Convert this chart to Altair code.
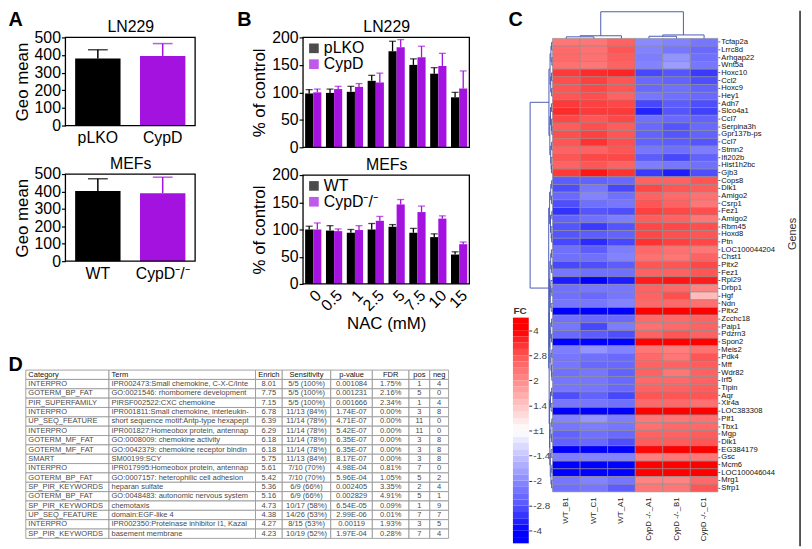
import json
import pandas as pd
import altair as alt

PURPLE = "#a412e0"
FONT = "Liberation Sans"
DENDRO = "#4b5bb5"
W, H = 804, 541

# ---------------- Panel A ----------------
a_ln_groups = ["pLKO", "CypD"]
a_ln_mean = [380, 395]
a_ln_err = [50, 70]
a_mef_groups = ["WT", "CypD⁻/⁻"]
a_mef_mean = [403, 390]
a_mef_err = [70, 92]

# ---------------- Panel B ----------------
nac = ["0", "0.5", "1", "2.5", "5", "7.5", "10", "15"]
b_ln_series = ["pLKO", "CypD"]
b_ln_plko = [98, 99, 101, 121, 175, 150, 134, 91]
b_ln_plko_err = [7, 7, 10, 10, 18, 11, 11, 9]
b_ln_cypd = [100, 106, 110, 118, 182, 164, 148, 107]
b_ln_cypd_err = [6, 5, 6, 17, 14, 20, 23, 32]
b_mef_series = ["WT", "CypD⁻/⁻"]
b_mef_wt = [100, 98, 94, 100, 105, 94, 86, 54]
b_mef_wt_err = [6, 9, 6, 11, 4, 8, 6, 5]
b_mef_ko = [100, 97, 99, 116, 146, 132, 120, 73]
b_mef_ko_err = [12, 4, 8, 8, 9, 11, 5, 4]

# ---------------- Panel C ----------------
samples = ["WT_B1", "WT_C1", "WT_A1", "CypD -/-_A1", "CypD -/-_B1", "CypD -/-_C1"]
genes = ["Tcfap2a", "Lrrc8d", "Arhgap22", "Wnt5a", "Hoxc10", "Ccl2", "Hoxc9", "Hey1", "Adh7",
         "Slco4a1", "Ccl7", "Serpina3h", "Gpr137b-ps", "Ccl7", "Stmn2", "Ifi202b", "Hist1h2bc", "Gjb3",
         "Cops8", "Dlk1", "Amigo2", "Csrp1", "Fez1", "Amigo2", "Rbm45", "Hoxd8", "Ptn", "LOC100044204",
         "Chst1", "Pitx2", "Fez1", "Rpl29", "Drbp1", "Hgf", "Ndn", "Pitx2", "Zcchc18", "Paip1", "Pdzrn3",
         "Spon2", "Meis2", "Pdk4", "Mff", "Wdr82", "Irf5", "Tipin", "Aqr", "Xlr4a", "LOC383308", "Plf1",
         "Tbx1", "Mgp", "Dlk1", "EG384179", "Gsc", "Mcm6", "LOC100046044", "Mrg1", "Sfrp1"]
wt_b1 = [2.3, 2.5, 2.5, 2.4, 3.2, 2.9, 2.8, 2.8, 3.2, 3.4, 3.0, 2.7, 2.9, 2.8, 2.6, 2.8, 2.6, 3.2,
         -2.7, -2.9, -2.5, -2.9, -3.3, -2.6, -2.8, -2.8, -3.0, -2.4, -2.4, -3.0, -2.3, -3.6, -2.4, -2.4,
         -2.3, -4.4, -2.4, -2.3, -2.5, -4.4, -2.2, -2.3, -2.3, -2.4, -2.3, -2.3, -2.9, -2.3, -4.4, -2.1,
         -2.3, -2.6, -2.6, -4.2, -2.2, -4.5, -4.5, -2.3, -2.4]
wt_c1 = [2.3, 2.4, 2.4, 2.3, 3.4, 3.1, 3.0, 2.9, 3.1, 3.2, 2.8, 2.9, 3.1, 3.3, 2.6, 3.0, 2.8, 3.7,
         -2.6, -2.3, -2.1, -2.4, -2.8, -2.4, -3.2, -2.7, -3.4, -2.7, -2.4, -2.9, -2.4, -4.3, -2.3, -2.5,
         -2.3, -4.5, -2.5, -3.0, -2.7, -4.4, -1.9, -2.4, -2.5, -2.3, -2.3, -2.3, -2.6, -2.3, -4.4, -1.9,
         -2.2, -2.4, -2.5, -4.1, -2.1, -4.5, -4.5, -2.1, -2.3]
wt_a1 = [2.6, 2.8, 2.7, 2.6, 3.5, 2.8, 2.8, 2.6, 3.0, 3.2, 3.0, 2.7, 2.8, 2.9, 2.8, 3.0, 2.6, 3.3,
         -2.5, -3.0, -2.4, -2.3, -2.9, -2.2, -2.8, -2.6, -3.0, -2.2, -2.1, -2.7, -2.4, -3.6, -2.3, -2.3,
         -2.1, -4.3, -2.5, -2.2, -2.9, -4.3, -2.1, -2.5, -2.5, -2.6, -2.5, -2.5, -3.0, -2.4, -4.4, -2.2,
         -2.3, -2.5, -2.9, -4.3, -2.1, -4.5, -4.5, -2.3, -2.7]
ko_a1 = [-2.0, -2.1, -2.2, -2.1, -3.0, -2.5, -2.5, -2.3, -3.0, -3.5, -2.4, -2.5, -2.6, -2.6, -2.3, -2.7, -2.2, -3.2,
         2.6, 3.0, 2.6, 2.8, 3.1, 2.7, 3.0, 3.0, 3.3, 2.5, 2.4, 2.8, 2.6, 3.6, 2.6, 2.6, 2.5, 4.3, 2.5, 2.4,
         2.6, 4.2, 2.3, 2.5, 2.6, 2.6, 2.5, 2.6, 2.8, 2.5, 4.3, 2.3, 2.4, 2.6, 2.7, 3.9, 2.2, 4.4, 4.3, 2.1, 2.3]
ko_b1 = [-2.1, -2.3, -1.9, -1.8, -2.8, -2.6, -2.4, -2.4, -2.7, -2.8, -2.5, -2.8, -2.8, -2.7, -2.4, -3.0, -2.3, -3.6,
         2.6, 2.8, 2.5, 2.6, 3.0, 2.6, 3.0, 2.9, 3.1, 2.4, 2.3, 2.8, 2.6, 3.7, 2.5, 2.9, 2.5, 4.4, 2.5, 2.5,
         2.8, 4.3, 2.2, 2.3, 2.6, 2.3, 2.5, 2.6, 2.8, 2.5, 4.3, 2.3, 2.5, 2.6, 2.7, 4.0, 2.3, 4.5, 4.5, 2.1, 2.3]
ko_c1 = [-2.3, -2.5, -2.4, -2.3, -3.2, -2.9, -2.6, -2.5, -2.9, -3.1, -2.6, -2.5, -2.6, -2.8, -2.2, -2.6, -2.4, -2.9,
         2.8, 2.7, 2.4, 2.3, 2.9, 2.3, 2.9, 2.8, 3.0, 2.3, 2.6, 3.0, 2.8, 3.6, 2.1, 1.5, 2.4, 4.3, 2.6, 2.6,
         2.6, 4.3, 2.4, 2.8, 2.7, 2.6, 2.6, 2.7, 2.8, 2.4, 4.3, 2.4, 2.5, 2.7, 2.8, 4.3, 2.3, 4.5, 4.5, 2.5, 2.8]

fc_domain = [-4, -2.8, -2, -1.4, -1, 1, 1.4, 2, 2.8, 4]
fc_colors = ["#0000ff", "#5555ff", "#8a8aff", "#c4c4ff", "#ffffff", "#ffffff", "#ffc4c4", "#ff8a8a", "#ff5555", "#ff0000"]
cbar_labels = ["-4", "-2.8", "-2", "-1.4", "±1", "1.4", "2", "2.8", "4"]
cbar_colors = ["#0000ff", "#5555ff", "#8a8aff", "#c4c4ff", "#ffffff", "#ffc4c4", "#ff8a8a", "#ff5555", "#ff0000"]

# dendrograms: (left, right, merge height); leaves are column / row indices
top_tree = (((0, 1, 0.6), 2, 1.0), ((3, 4, 0.8), 5, 1.3), 10.0)
_A = ((0, 1, 0.4), (2, 3, 0.3), 0.7)
_B = ((4, 5, 0.5), (6, 7, 0.4), 0.8)
_C = ((8, 9, 0.5), (10, (11, 12, 0.3), 0.5), 0.9)
_D = ((13, 14, 0.4), (15, (16, 17, 0.5), 0.6), 0.8)
_E = ((18, 19, 0.4), (20, 21, 0.5), 0.8)
_F = ((22, 23, 0.3), (24, (25, 26, 0.4), 0.6), 0.9)
_G = ((27, 28, 0.5), (29, 30, 0.4), 0.8)
_H = ((31, (32, 33, 0.3), 0.7), (34, 35, 0.6), 1.0)
_I = ((36, 37, 0.4), (38, 39, 0.5), 0.8)
_J = ((40, 41, 0.3), (42, (43, 44, 0.3), 0.5), 0.7)
_K = ((45, 46, 0.4), (47, 48, 0.6), 0.9)
_L = ((49, 50, 0.3), (51, 52, 0.4), 0.7)
_M = ((53, 54, 0.6), ((55, 56, 0.3), (57, 58, 0.4), 0.7), 1.0)
left_tree = (((_A, _B, 1.1), (_C, _D, 1.2), 1.6),
             ((_E, _F, 1.3), (((_G, _H, 1.2), (_I, _J, 1.1), 1.4), (_K, (_L, _M, 1.2), 1.3), 1.5), 1.7),
             10.0)

# ---------------- Panel D ----------------
tbl_header = ["Category", "Term", "Enrich", "Sensitivity", "p-value", "FDR", "pos", "neg"]
tbl_category = ["INTERPRO", "GOTERM_BP_FAT", "PIR_SUPERFAMILY", "INTERPRO", "UP_SEQ_FEATURE", "INTERPRO",
                "GOTERM_MF_FAT", "GOTERM_MF_FAT", "SMART", "INTERPRO", "GOTERM_BP_FAT", "SP_PIR_KEYWORDS",
                "GOTERM_BP_FAT", "SP_PIR_KEYWORDS", "UP_SEQ_FEATURE", "INTERPRO", "SP_PIR_KEYWORDS"]
tbl_term = ["IPR002473:Small chemokine, C-X-C/Inte", "GO:0021546: rhombomere development",
            "PIRSF002522:CXC chemokine", "IPR001811:Small chemokine, interleukin-",
            "short sequence motif:Antp-type hexapept", "IPR001827:Homeobox protein, antennap",
            "GO:0008009: chemokine activity", "GO:0042379: chemokine receptor bindin", "SM00199:SCY",
            "IPR017995:Homeobox protein, antennap", "GO:0007157: heterophilic cell adhesion",
            "heparan sulfate", "GO:0048483: autonomic nervous system", "chemotaxis", "domain:EGF-like 4",
            "IPR002350:Proteinase inhibitor I1, Kazal", "basement membrane"]
tbl_enrich = ["8.01", "7.75", "7.15", "6.78", "6.39", "6.29", "6.18", "6.18", "5.75", "5.61", "5.42",
              "5.36", "5.16", "4.73", "4.38", "4.27", "4.23"]
tbl_sens = ["5/5 (100%)", "5/5 (100%)", "5/5 (100%)", "11/13 (84%)", "11/14 (78%)", "11/14 (78%)",
            "11/14 (78%)", "11/14 (78%)", "11/13 (84%)", "7/10 (70%)", "7/10 (70%)", "6/9 (66%)",
            "6/9 (66%)", "10/17 (58%)", "14/26 (53%)", "8/15 (53%)", "10/19 (52%)"]
tbl_p = ["0.001084", "0.001231", "0.001666", "1.74E-07", "4.71E-07", "5.42E-07", "6.35E-07", "6.35E-07",
         "8.17E-07", "4.98E-04", "5.96E-04", "0.002405", "0.002829", "6.54E-05", "2.99E-06", "0.00119",
         "1.97E-04"]
tbl_fdr = ["1.75%", "2.16%", "2.34%", "0.00%", "0.00%", "0.00%", "0.00%", "0.00%", "0.00%", "0.81%",
           "1.05%", "3.35%", "4.91%", "0.09%", "0.01%", "1.93%", "0.28%"]
tbl_pos = ["1", "5", "1", "3", "11", "11", "3", "3", "3", "7", "5", "2", "5", "1", "7", "3", "7"]
tbl_neg = ["4", "0", "4", "8", "0", "0", "8", "8", "8", "0", "2", "4", "1", "9", "7", "5", "4"]

# ---------------- layout (plot-area boxes, pixels inside the figure) ----------------
BOX_A1 = (58, 189, 27, 116)
BOX_A2 = (58, 189, 165, 253)
BOX_B1 = (298, 466, 27, 138)
BOX_B2 = (298, 466, 166, 276)
TBL_Y = (363, 533)
TBL_EDGES = [18, 102, 250, 277, 326, 368, 405, 426, 445]
HEAT_X = (550, 717)
HEAT_Y = (28, 486)
DTOP_Y = (0, 28)
DLEFT_X = (526, 550)
CBAR_X = (510, 526)
CBAR_Y = (310, 538)
BORDER_X = 800


def lin(domain, rng, **kw):
    return alt.Scale(domain=domain, range=list(rng), nice=False, zero=False, **kw)


def band(rng, **kw):
    return alt.Scale(range=list(rng), **kw)


def top_title_axis(y_top, text):
    return alt.Axis(orient="top", offset=-y_top, labels=False, ticks=False, domain=False, title=text,
                    titleFontSize=16, titleFontWeight="normal", titleColor="black", titlePadding=3,
                    titleFont=FONT)


def letter_axis(x_axis, text, x_letter, y_base):
    return alt.Axis(orient="left", offset=-x_axis, labels=False, ticks=False, domain=False, title=text,
                    titleAngle=0, titleAlign="left", titleBaseline="alphabetic", titleX=x_letter - x_axis,
                    titleY=y_base, titleFontSize=20, titleFontWeight="bold", titleColor="black",
                    titleFont=FONT)


def frame(box, title, letter=None, letter_x=0):
    x0, x1, y0, y1 = box
    df = pd.DataFrame({"k": ["frame"]})
    yax = letter_axis(x0, letter, letter_x, 15) if letter else None
    return alt.Chart(df).mark_rect(fillOpacity=0, stroke="black", strokeWidth=1.3).encode(
        x=alt.X("k:N", title=None, scale=band((x0, x1), paddingInner=0, paddingOuter=0),
                axis=top_title_axis(y0, title)),
        y=alt.Y("k:N", title=None, scale=band((y0, y1), paddingInner=0, paddingOuter=0), axis=yax),
    )


def a_panel(groups, means, errs, box):
    x0, x1, y0, y1 = box
    df = pd.DataFrame({"g": groups, "m": means, "e": errs})
    df["top"] = df["m"] + df["e"]
    x = alt.X("g:N", sort=groups, title=None,
              scale=band((x0, x1), domain=groups, paddingInner=0.3, paddingOuter=0.15),
              axis=alt.Axis(orient="bottom", offset=-(H - y1), labelAngle=0, ticks=False, domain=False,
                            labelFontSize=16, labelPadding=4, labelColor="black"))
    yax = alt.Axis(orient="left", offset=-x0, values=[0, 100, 200, 300, 400, 500], tickSize=4,
                   tickColor="black", tickWidth=1.2, domain=False, labelFontSize=16, labelColor="black",
                   labelPadding=1, titleFontSize=17, titleFontWeight="normal", titleColor="black",
                   titlePadding=3)
    ysc = lin([0, 500], (y1, y0))
    color = alt.Color("g:N", scale=alt.Scale(domain=groups, range=["#000000", PURPLE]), legend=None)
    base = alt.Chart(df)
    bars = base.mark_bar().encode(x=x, y=alt.Y("m:Q", scale=ysc, axis=yax, title="Geo mean"), color=color)
    rule = base.mark_rule(strokeWidth=1.5).encode(
        x=x, y=alt.Y("m:Q", scale=ysc, axis=yax, title="Geo mean"), y2="top:Q", color=color)
    cap = base.mark_tick(thickness=1.5, size=20).encode(
        x=x, y=alt.Y("top:Q", scale=ysc, axis=yax, title="Geo mean"), color=color)
    return alt.layer(bars, rule, cap)


def b_panel(series, m1, e1, m2, e2, box, show_x, legend_xy):
    x0, x1, y0, y1 = box
    df = pd.DataFrame({"nac": nac * 2, "s": [series[0]] * 8 + [series[1]] * 8, "m": m1 + m2, "e": e1 + e2})
    df["top"] = df["m"] + df["e"]
    if show_x:
        xax = alt.Axis(orient="bottom", offset=-(H - y1), labelAngle=-45, labelFontSize=16, ticks=False,
                       domain=False, labelPadding=3, labelColor="black", titleFontSize=17,
                       titleFontWeight="normal", titleColor="black", titlePadding=2)
    else:
        xax = None
    x = alt.X("nac:N", sort=nac, title="NAC (mM)", axis=xax,
              scale=band((x0, x1), domain=nac, paddingInner=0.22, paddingOuter=0.1))
    xo = alt.XOffset("s:N", sort=series, scale=alt.Scale(domain=series))
    yax = alt.Axis(orient="left", offset=-x0, values=[0, 50, 100, 150, 200], tickSize=4, tickColor="black",
                   tickWidth=1.2, domain=False, labelFontSize=16, labelColor="black", labelPadding=1,
                   titleFontSize=17, titleFontWeight="normal", titleColor="black", titlePadding=3)
    ysc = lin([0, 200], (y1, y0))
    leg = alt.Legend(title=None, orient="none", legendX=legend_xy[0], legendY=legend_xy[1], padding=0,
                     symbolType="square", symbolSize=95, symbolStrokeWidth=0, labelFontSize=16,
                     labelFont=FONT, labelOffset=2, rowPadding=-1, labelColor="black")
    color = alt.Color("s:N", sort=series, scale=alt.Scale(domain=series, range=["#000000", PURPLE]),
                      legend=leg)
    base = alt.Chart(df)
    bars = base.mark_bar().encode(x=x, xOffset=xo,
                                  y=alt.Y("m:Q", scale=ysc, axis=yax, title="% of control"), color=color)
    rule = base.mark_rule(strokeWidth=1.3).encode(
        x=x, xOffset=xo, y=alt.Y("m:Q", scale=ysc, axis=yax, title="% of control"), y2="top:Q", color=color)
    cap = base.mark_tick(thickness=1.3, size=7).encode(
        x=x, xOffset=xo, y=alt.Y("top:Q", scale=ysc, axis=yax, title="% of control"), color=color)
    return alt.layer(bars, rule, cap)


def tree_segments(node):
    if isinstance(node, int):
        return float(node), 0.0, []
    left, right, h = node
    pl, hl, sl = tree_segments(left)
    pr, hr, sr = tree_segments(right)
    segs = sl + sr + [(pl, hl, pl, h), (pr, hr, pr, h), (pl, h, pr, h)]
    return (pl + pr) / 2.0, h, segs


layers = []

# ----- A -----
layers.append(a_panel(a_ln_groups, a_ln_mean, a_ln_err, BOX_A1))
layers.append(frame(BOX_A1, "LN229", "A", 0))
layers.append(a_panel(a_mef_groups, a_mef_mean, a_mef_err, BOX_A2))
layers.append(frame(BOX_A2, "MEFs"))

# ----- B -----
layers.append(b_panel(b_ln_series, b_ln_plko, b_ln_plko_err, b_ln_cypd, b_ln_cypd_err, BOX_B1, False,
                      (BOX_B1[0] + 3, BOX_B1[2] + 3)))
layers.append(frame(BOX_B1, "LN229", "B", 231))
layers.append(b_panel(b_mef_series, b_mef_wt, b_mef_wt_err, b_mef_ko, b_mef_ko_err, BOX_B2, True,
                      (BOX_B2[0] + 3, BOX_B2[2] + 3)))
layers.append(frame(BOX_B2, "MEFs"))

# ----- D (table) -----
col_align = ["left", "left", "center", "center", "center", "center", "center", "center"]
col_values = [tbl_category, tbl_term, tbl_enrich, tbl_sens, tbl_p, tbl_fdr, tbl_pos, tbl_neg]
for j, (hdr, vals, al) in enumerate(zip(tbl_header, col_values, col_align)):
    left, right = TBL_EDGES[j], TBL_EDGES[j + 1]
    w = right - left
    tdf = pd.DataFrame({"row": list(range(len(vals) + 1)), "txt": [hdr] + vals, "c": ["c"] * (len(vals) + 1)})
    yax = letter_axis(left, "D", 0, TBL_Y[0]) if j == 0 else None
    ty = alt.Y("row:O", title=None, axis=yax, scale=band(TBL_Y, paddingInner=0, paddingOuter=0))
    tx = alt.X("c:N", title=None, axis=None, scale=band((left, right), paddingInner=0, paddingOuter=0))
    cells = alt.Chart(tdf).mark_rect(fill="white", stroke="#9a9a9a", strokeWidth=0.9).encode(x=tx, y=ty)
    txt = alt.Chart(tdf).mark_text(align=al, dx=(-w / 2 + 2.5) if al == "left" else 0, fontSize=7.6,
                                   font=FONT, limit=w - 3, ellipsis="\u200b").encode(
        x=tx, y=ty, text="txt:N",
        color=alt.condition("datum.row == 0", alt.value("#111111"), alt.value("#4a4a4a")))
    layers.append(alt.layer(cells, txt))

# ----- C (heatmap) -----
cols = [wt_b1, wt_c1, wt_a1, ko_a1, ko_b1, ko_c1]
recs = []
for s, vals in zip(samples, cols):
    for r, v in enumerate(vals):
        recs.append({"sample": s, "row": r, "fc": v})
hdf = pd.DataFrame(recs)
GENE_EXPR = json.dumps(genes) + "[datum.value]"
heat = alt.Chart(hdf).mark_rect(stroke="#8c8c8c", strokeWidth=0.6).encode(
    x=alt.X("sample:N", sort=samples, title=None,
            scale=band(HEAT_X, domain=samples, paddingInner=0, paddingOuter=0),
            axis=alt.Axis(orient="bottom", offset=-(H - HEAT_Y[1]), labelAngle=-90, labelFontSize=8,
                          ticks=False, domain=False, labelPadding=5, labelColor="#222222")),
    y=alt.Y("row:O", title="Genes", scale=band(HEAT_Y, paddingInner=0, paddingOuter=0),
            axis=alt.Axis(orient="right", offset=HEAT_X[1] - W, labelExpr=GENE_EXPR, labelFontSize=7.7,
                          tickSize=2, tickColor="#666666", domain=False, labelPadding=1, labelOverlap=False,
                          labelColor="#111111", titleAngle=270, titleFontSize=11, titleFontWeight="normal",
                          titleColor="#333333", titleX=75, titleY=225, titleAlign="center",
                          titleBaseline="middle")),
    color=alt.Color("fc:Q", scale=alt.Scale(domain=fc_domain, range=fc_colors, clamp=True, interpolate="rgb"),
                    legend=None),
)
layers.append(heat)

_, _, tsegs = tree_segments(top_tree)
tdf_d = pd.DataFrame(tsegs, columns=["p1", "h1", "p2", "h2"])
dendro_top = alt.Chart(tdf_d).mark_rule(color=DENDRO, strokeWidth=1).encode(
    x=alt.X("p1:Q", title=None, scale=lin([-0.5, 5.5], HEAT_X), axis=None),
    x2="p2:Q",
    y=alt.Y("h1:Q", title=None, scale=lin([0, 10.4], (DTOP_Y[1], DTOP_Y[0])),
            axis=letter_axis(HEAT_X[0], "C", 505, 15)),
    y2="h2:Q",
)
layers.append(dendro_top)

_, _, lsegs = tree_segments(left_tree)
ldf = pd.DataFrame(lsegs, columns=["p1", "h1", "p2", "h2"])
dendro_left = alt.Chart(ldf).mark_rule(color=DENDRO, strokeWidth=1).encode(
    y=alt.Y("p1:Q", title=None, scale=lin([-0.5, 58.5], HEAT_Y), axis=None),
    y2="p2:Q",
    x=alt.X("h1:Q", title=None, scale=lin([0, 10.6], (DLEFT_X[1], DLEFT_X[0])), axis=None),
    x2="h2:Q",
)
layers.append(dendro_left)

# colour bar (legend of panel C)
cb_lo = [-0.5 + 0.25 * i for i in range(36)]
cb_df = pd.DataFrame({"lo": cb_lo, "hi": [v + 0.25 for v in cb_lo], "mid": [v + 0.125 for v in cb_lo],
                      "k": ["fc"] * len(cb_lo)})
CBAR_EXPR = json.dumps(cbar_labels, ensure_ascii=False) + "[datum.value]"
cbar = alt.Chart(cb_df).mark_rect().encode(
    x=alt.X("k:N", title=None, axis=None, scale=band(CBAR_X, paddingInner=0, paddingOuter=0)),
    y=alt.Y("lo:Q", title="FC", scale=lin([-0.5, 8.5], (CBAR_Y[1], CBAR_Y[0])),
            axis=alt.Axis(orient="right", offset=CBAR_X[1] - W, values=list(range(9)), labelExpr=CBAR_EXPR,
                          tickSize=3, tickColor="#333333", labelFontSize=10, labelColor="#444444",
                          domain=False, grid=False, labelPadding=1, titleAngle=0, titleAlign="left",
                          titleBaseline="alphabetic", titleX=CBAR_X[0] - CBAR_X[1], titleY=CBAR_Y[0] - 4,
                          titleFontSize=10, titleFontWeight="bold", titleColor="#333333")),
    y2="hi:Q",
    color=alt.Color("mid:Q", scale=alt.Scale(domain=list(range(9)), range=cbar_colors, clamp=True,
                                             interpolate="rgb"), legend=None),
)
layers.append(cbar)

# thin figure border on the right edge of panel C
border = alt.Chart(pd.DataFrame({"b": [0]})).mark_rule(color="#222222", strokeWidth=1.5).encode(
    x=alt.value(BORDER_X), y=alt.value(0), y2=alt.value(H))
layers.append(border)

chart = alt.layer(*layers).resolve_scale(
    x="independent", y="independent", color="independent", xOffset="independent"
).properties(
    width=W, height=H, padding=0, background="white", autosize=alt.AutoSizeParams(type="none")
).configure(font=FONT).configure_view(stroke=None).configure_axis(
    labelFont=FONT, titleFont=FONT, grid=False
).configure_legend(labelFont=FONT).configure_title(font=FONT)

chart.save("out.html", embed_options={"renderer": "svg", "actions": False})
